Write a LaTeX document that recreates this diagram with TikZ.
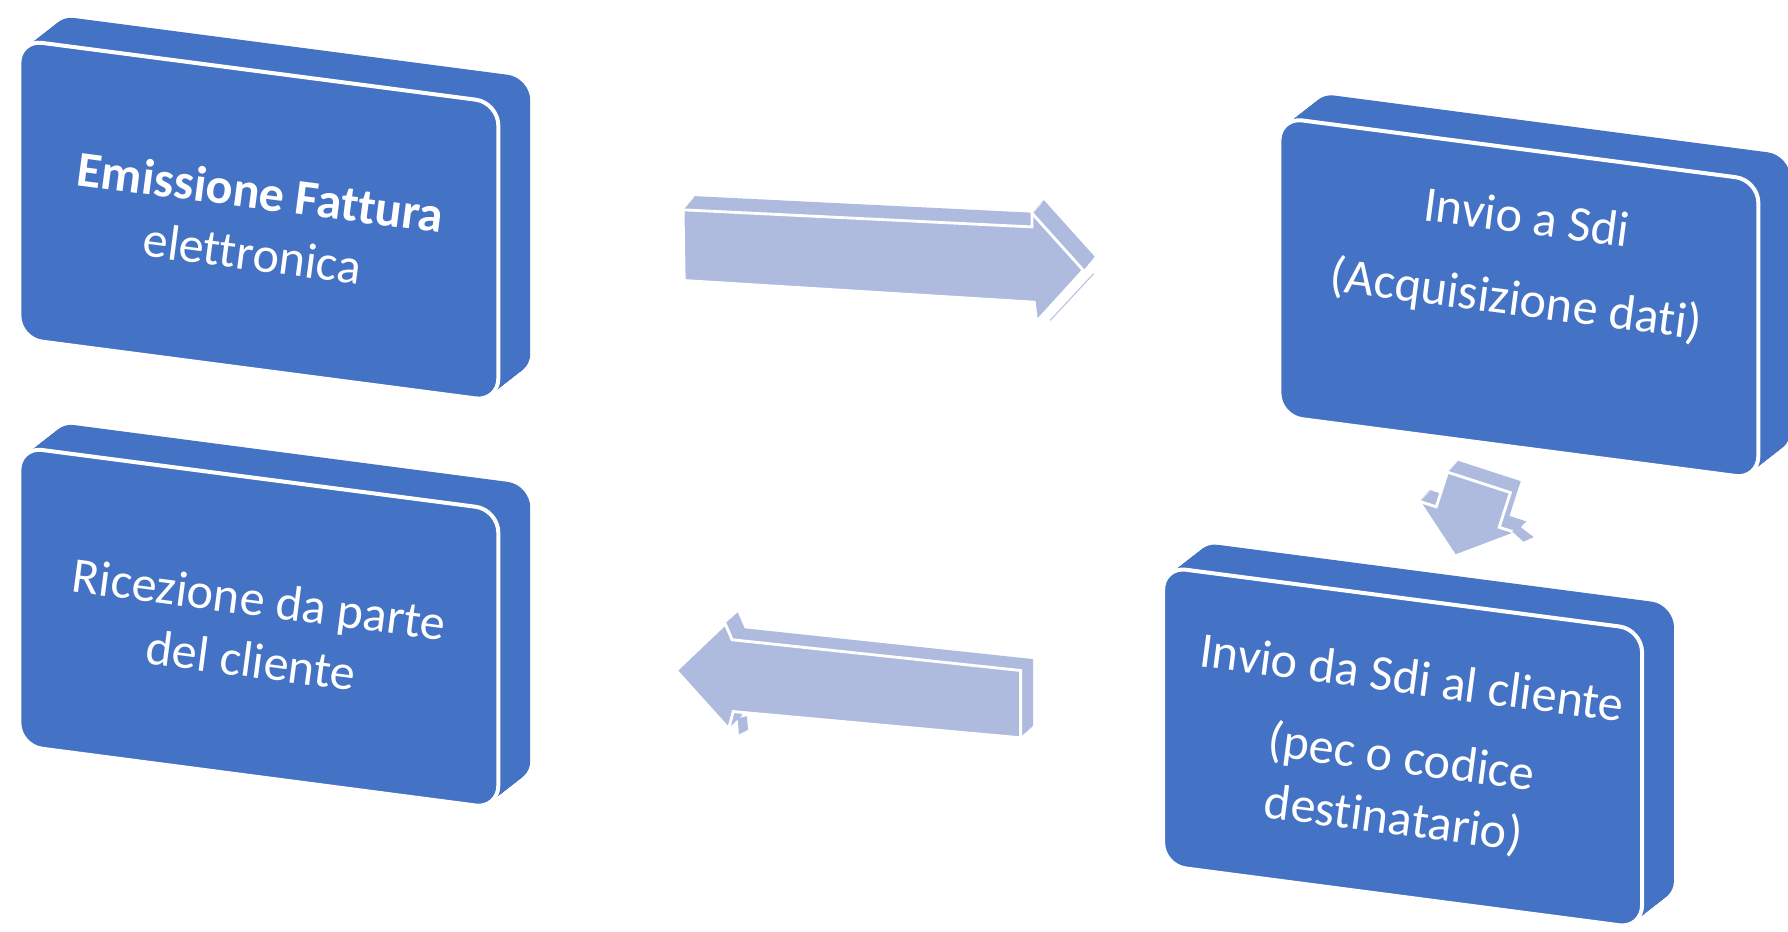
\documentclass[tikz,border=0pt]{standalone}
\usepackage{fontspec}
\setmainfont{Carlito}[Ligatures={NoCommon}]

\definecolor{bluscatola}{RGB}{68,114,196}
\definecolor{azzurrofreccia}{RGB}{174,186,222}

\tikzset{
    fianco/.style={fill=bluscatola, rounded corners=20},
    faccia/.style={fill=bluscatola, draw=white, line width=3.5pt, rounded corners=20},
    retro/.style={fill=azzurrofreccia},
    freccia/.style={fill=azzurrofreccia, draw=white, line width=2.5pt},
    testo/.style={text=white, align=center, rotate=-7.5,
        font=\fontsize{44}{54}\selectfont}
}

% scatola in prospettiva: #1 = angolo in alto a sinistra della faccia
\newcommand{\scatola}[1]{%
    \begin{scope}[shift={#1}]
        \foreach \t in {1,...,28}
            \fill[fianco, shift={(\t,-\t*0.78)}] (0,0) -- (420,55) -- (420,317) -- (0,262) -- cycle;
        \draw[faccia] (0,0) -- (420,55) -- (420,317) -- (0,262) -- cycle;
    \end{scope}}

\begin{document}
\begin{tikzpicture}[x=1pt, y=-1pt]
    \useasboundingbox (0,0) rectangle (1568,817);

    % le quattro scatole
    \scatola{(17,35)}
    \scatola{(1122,103)}
    \scatola{(1020,497)}
    \scatola{(17,392)}

    \node[testo] (emissione) at (225,195) {{\bfseries Emissione Fattura}\\elettronica};
    \node[testo] (inviosdi) at (1334,229) {Invio a Sdi\\[18pt](Acquisizione dati)};
    \node[testo] (inviocliente) at (1230,658) {Invio da Sdi al cliente\\[16pt](pec o codice\\destinatario)};
    \node[testo] (ricezione) at (224,552) {Ricezione da parte\\del cliente};

    % freccia verso destra
    \foreach \t in {1,...,12}
        \fill[retro, shift={(\t*0.83,-\t)}] (599,184) -- (905,199) -- (905,187) -- (950,237) -- (909,282) -- (907,265) -- (600,246) -- cycle;
    \draw[freccia] (599,184) -- (905,199) -- (905,187) -- (950,237) -- (909,282) -- (907,265) -- (600,246) -- cycle;
    \draw[azzurrofreccia, line width=0.8pt] (921,281) -- (959,240);

    % freccia verso il basso
    \foreach \t in {1,...,10}
        \fill[retro, shift={(1297+\t*0.9,423-\t)}, rotate=-18]
            (-29,0) -- (29,0) -- (29,32) -- (45,32) -- (0,68) -- (-45,32) -- (-29,32) -- cycle;
    \draw[freccia, shift={(1297,423)}, rotate=-18]
        (-29,0) -- (29,0) -- (29,32) -- (45,32) -- (0,68) -- (-45,32) -- (-29,32) -- cycle;
    \fill[retro] (1326,466) -- (1333,462) -- (1345,471) -- (1336,475) -- cycle;

    % freccia verso sinistra
    \foreach \t in {1,...,10}
        \fill[retro, shift={(\t*1.1,-\t)}] (593,588) -- (636,547) -- (642,561) -- (895,588) -- (895,647) -- (643,624) -- (639,639) -- cycle;
    \draw[freccia] (593,588) -- (636,547) -- (642,561) -- (895,588) -- (895,647) -- (643,624) -- (639,639) -- cycle;
    \fill[retro] (647,630) -- (655,628) -- (656,640) -- (648,644) -- cycle;
\end{tikzpicture}
\end{document}
